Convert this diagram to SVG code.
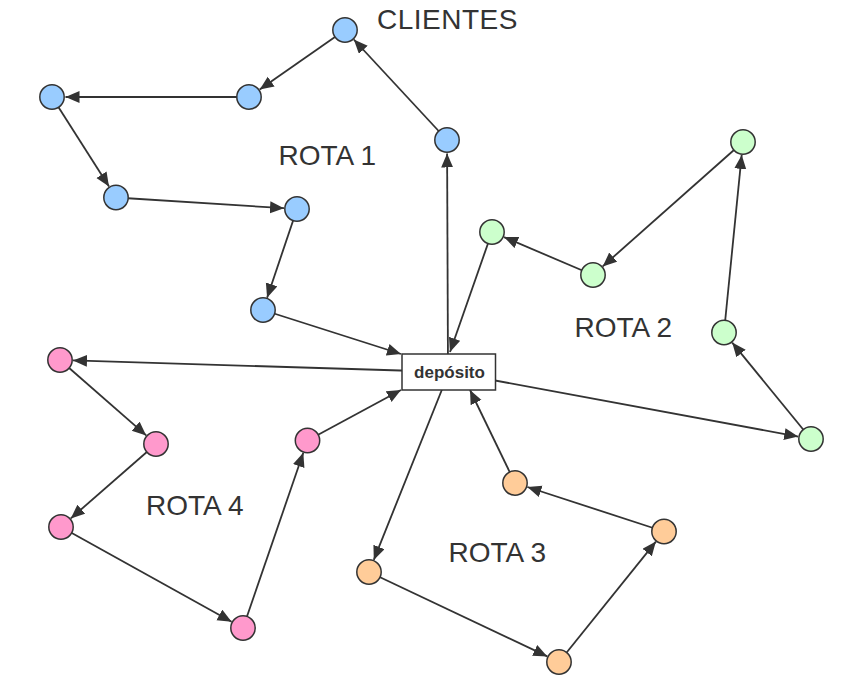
<svg xmlns="http://www.w3.org/2000/svg" width="849" height="699" viewBox="0 0 849 699">
<style>
.bg{fill:#ffffff}
.edge{stroke:#333333;stroke-width:1.8;fill:none;marker-end:url(#arr)}
.node{stroke:#333333;stroke-width:1.5}
.blue{fill:#99ccff}
.green{fill:#ccffcc}
.orange{fill:#ffcc99}
.pink{fill:#ff99cc}
.lbl{font-family:"Liberation Sans",Arial,sans-serif;font-size:28px;fill:#333333}
.dep{fill:#ffffff;stroke:#333333;stroke-width:1.5}
.deptxt{font-family:"Liberation Sans",Arial,sans-serif;font-size:17px;font-weight:bold;fill:#333333}
</style>
<defs>
<marker id="arr" markerUnits="userSpaceOnUse" markerWidth="15" markerHeight="13" refX="14" refY="6" orient="auto">
<path d="M0,0 L14,6 L0,12 z" fill="#333333"/>
</marker>
</defs>
<rect class="bg" x="0" y="0" width="849" height="699"/>
<g id="connectors">
<line class="edge" x1="448" y1="372" x2="447.1" y2="153.5"/>
<line class="edge" x1="447" y1="140" x2="353.8" y2="39.5"/>
<line class="edge" x1="345" y1="30" x2="259.7" y2="89.6"/>
<line class="edge" x1="249" y1="97" x2="65.5" y2="97"/>
<line class="edge" x1="52" y1="97" x2="109" y2="186.5"/>
<line class="edge" x1="116" y1="197.5" x2="284" y2="208.2"/>
<line class="edge" x1="297" y1="209" x2="267.1" y2="297.7"/>
<line class="edge" x1="263" y1="310" x2="401" y2="354"/>
<line class="edge" x1="449" y1="372" x2="73" y2="360.4"/>
<line class="edge" x1="60" y1="360" x2="146.2" y2="435.4"/>
<line class="edge" x1="156" y1="444" x2="70.8" y2="518.4"/>
<line class="edge" x1="61" y1="527" x2="231.6" y2="621.7"/>
<line class="edge" x1="243" y1="628" x2="303.3" y2="452.8"/>
<line class="edge" x1="307.5" y1="440.5" x2="401" y2="390"/>
<line class="edge" x1="449" y1="372" x2="798.2" y2="436.6"/>
<line class="edge" x1="811" y1="439" x2="732.2" y2="342.6"/>
<line class="edge" x1="724" y1="332.5" x2="741.7" y2="154.9"/>
<line class="edge" x1="743" y1="142" x2="602.7" y2="266.4"/>
<line class="edge" x1="593" y1="275" x2="504" y2="237.1"/>
<line class="edge" x1="492" y1="232" x2="450" y2="352"/>
<line class="edge" x1="449" y1="372" x2="373.8" y2="559.9"/>
<line class="edge" x1="369" y1="572" x2="547.3" y2="656.4"/>
<line class="edge" x1="559" y1="662" x2="655.9" y2="541.6"/>
<line class="edge" x1="664" y1="531.5" x2="527.4" y2="487"/>
<line class="edge" x1="515" y1="483" x2="470" y2="390"/>
</g>
<g id="deposito">
<rect class="dep" x="402" y="354" width="93.5" height="36"/>
<text class="deptxt" x="449.5" y="378" text-anchor="middle">depósito</text>
</g>
<g id="b1"><circle class="node blue" cx="447" cy="140" r="12.2"/></g>
<g id="b2"><circle class="node blue" cx="345" cy="30" r="12.2"/></g>
<g id="b3"><circle class="node blue" cx="249" cy="97" r="12.2"/></g>
<g id="b4"><circle class="node blue" cx="52" cy="97" r="12.2"/></g>
<g id="b5"><circle class="node blue" cx="116" cy="197.5" r="12.2"/></g>
<g id="b6"><circle class="node blue" cx="297" cy="209" r="12.2"/></g>
<g id="b7"><circle class="node blue" cx="263" cy="310" r="12.2"/></g>
<g id="g1"><circle class="node green" cx="492" cy="232" r="12.2"/></g>
<g id="g2"><circle class="node green" cx="593" cy="275" r="12.2"/></g>
<g id="g3"><circle class="node green" cx="743" cy="142" r="12.2"/></g>
<g id="g4"><circle class="node green" cx="724" cy="332.5" r="12.2"/></g>
<g id="g5"><circle class="node green" cx="811" cy="439" r="12.2"/></g>
<g id="o1"><circle class="node orange" cx="515" cy="483" r="12.2"/></g>
<g id="o2"><circle class="node orange" cx="664" cy="531.5" r="12.2"/></g>
<g id="o3"><circle class="node orange" cx="559" cy="662" r="12.2"/></g>
<g id="o4"><circle class="node orange" cx="369" cy="572" r="12.2"/></g>
<g id="p1"><circle class="node pink" cx="60" cy="360" r="12.2"/></g>
<g id="p2"><circle class="node pink" cx="156" cy="444" r="12.2"/></g>
<g id="p3"><circle class="node pink" cx="61" cy="527" r="12.2"/></g>
<g id="p4"><circle class="node pink" cx="243" cy="628" r="12.2"/></g>
<g id="p5"><circle class="node pink" cx="307.5" cy="440.5" r="12.2"/></g>
<g id="labels">
<text class="lbl" x="377" y="28.5" letter-spacing="0.5">CLIENTES</text>
<text class="lbl" x="278.5" y="165">ROTA 1</text>
<text class="lbl" x="574.5" y="336.5">ROTA 2</text>
<text class="lbl" x="448.5" y="561.5">ROTA 3</text>
<text class="lbl" x="146" y="515">ROTA 4</text>
</g>
</svg>
